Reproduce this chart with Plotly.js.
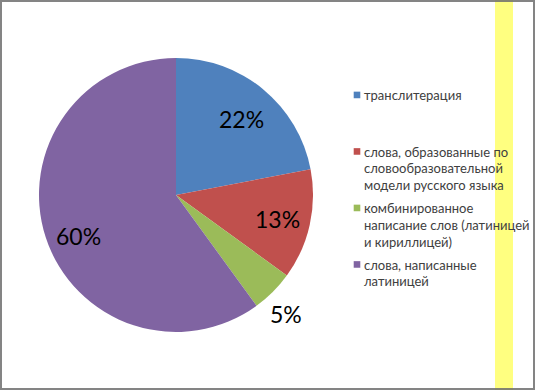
<!DOCTYPE html>
<html>
<head>
<meta charset="utf-8">
<script src="https://cdn.plot.ly/plotly-3.0.1.min.js"></script>
<style>html,body{margin:0;padding:0;background:#fff;}#chart{width:536px;height:390px;}</style>
</head>
<body>
<div id="chart"></div>
<script>
const categories = [
  "транслитерация",
  "слова, образованные по словообразовательной модели русского языка",
  "комбинированное написание слов (латиницей и кириллицей)",
  "слова, написанные латиницей"
];
const legendLabels = [
  "транслитерация<br> <br> ",
  "слова, образованные по<br>словообразовательной<br>модели русского языка",
  "комбинированное<br>написание слов (латиницей<br>и кириллицей)",
  "слова, написанные<br>латиницей"
];
const values = [22, 13, 5, 60];
const colors = ["#4F81BD", "#C0504D", "#9BBB59", "#8064A2"];
// label placement: distance from centre (fraction of radius) and small angle nudge (deg)
const labelRadius = [0.734, 0.76, 1.18, 0.77];
const labelAngleShift = [1.2, 0.7, 2.3, -4.8];

const W = 536, H = 390;
const px = x => x / W;
const py = y => 1 - y / H;

// pie placement (pixels)
const CX = 176, CY = 195, R = 137;

const total = values.reduce((a, b) => a + b, 0);
const annotations = [];
let cum = 0;
values.forEach((v, i) => {
  const mid = (cum + v / 2) / total * 2 * Math.PI + labelAngleShift[i] * Math.PI / 180;
  cum += v;
  const x = CX + Math.sin(mid) * R * labelRadius[i];
  const y = CY - Math.cos(mid) * R * labelRadius[i];
  annotations.push({
    xref: "paper", yref: "paper", x: px(x), y: py(y),
    xanchor: "center", yanchor: "middle", showarrow: false,
    text: Math.round(v / total * 100) + "%",
    font: {family: "Lato, 'Open Sans', sans-serif", size: 23, color: "#000"}
  });
});

const trace = {
  type: "pie",
  labels: legendLabels,
  values: values,
  sort: false,
  direction: "clockwise",
  rotation: 0,
  marker: {colors: colors, line: {width: 0}},
  textinfo: "none",
  hoverinfo: "none",
  domain: {x: [px(CX - R), px(CX + R)], y: [py(CY + R), py(CY - R)]}
};

const layout = {
  width: W, height: H,
  margin: {l: 0, r: 0, t: 0, b: 0, autoexpand: false},
  paper_bgcolor: "#fff",
  showlegend: true,
  legend: {
    x: px(324), y: py(80), xanchor: "left", yanchor: "top",
    valign: "top",
    bgcolor: "rgba(0,0,0,0)",
    font: {family: "Lato, 'Open Sans', sans-serif", size: 13, color: "#404040"},
    itemclick: false, itemdoubleclick: false
  },
  annotations: annotations,
  shapes: [
    {type: "rect", xref: "paper", yref: "paper", x0: px(495), x1: px(513), y0: 0, y1: 1,
     fillcolor: "#FFFF80", line: {width: 0}, layer: "below"},
    {type: "rect", xref: "paper", yref: "paper", x0: px(1), x1: px(534), y0: py(389), y1: py(1),
     fillcolor: "rgba(0,0,0,0)", line: {color: "rgba(110,110,110,0.85)", width: 2}}
  ]
};

Plotly.newPlot("chart", [trace], layout, {displayModeBar: false, staticPlot: true}).then(gd => {
  gd.querySelectorAll(".legend .traces").forEach((g, i) => {
    const m = /translate\(\s*([-\d.]+)[ ,]+([-\d.]+)\s*\)/.exec(g.getAttribute("transform") || "");
    if (m) g.setAttribute("transform", "translate(" + m[1] + "," + (parseFloat(m[2]) + i * 2.8) + ")");
  });
  gd.querySelectorAll(".legendpoints").forEach(g => {
    g.setAttribute("transform", "translate(13,0)");
  });
  gd.querySelectorAll(".legendpoints path").forEach(p => {
    p.setAttribute("transform", (p.getAttribute("transform") || "") + " scale(0.55)");
  });
});
</script>
</body>
</html>
